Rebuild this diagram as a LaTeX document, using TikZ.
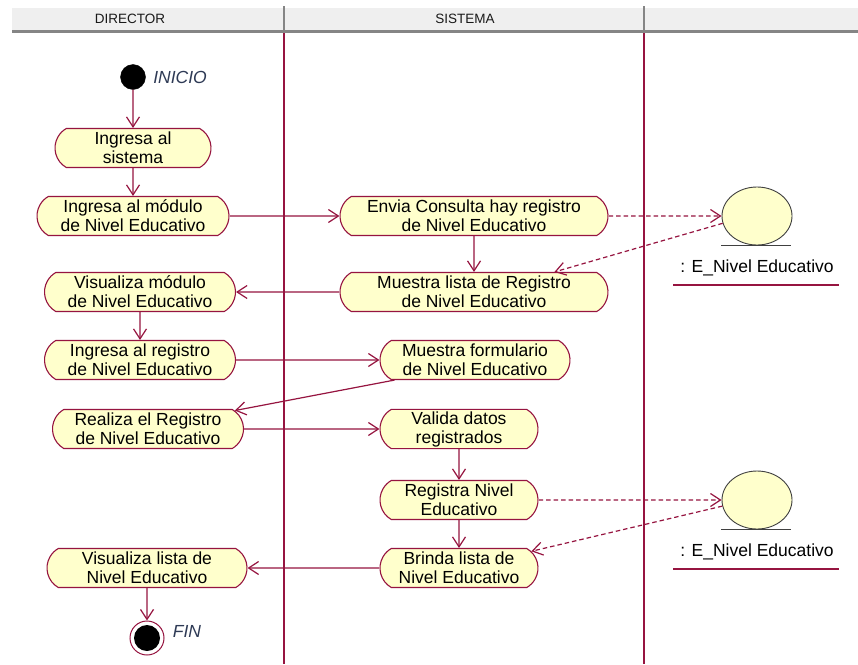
\documentclass[tikz,border=0pt]{standalone}
\usepackage{fontspec}
\setmainfont{Liberation Sans}
\usetikzlibrary{calc, arrows.meta, shapes.misc, shapes.geometric}
\definecolor{LYellow}{HTML}{FFFFCC}
\definecolor{DRed}{HTML}{961440}
\definecolor{HGray}{HTML}{EFEFEF}
\definecolor{MGray}{HTML}{858585}
\definecolor{SLabel}{HTML}{2E3A55}
\NewDocumentCommand{\EntityObj}{O{(0,0)} m}{
    \node[entityobj] (#2) at #1 {};
    \draw[black!75, line width=1.1pt] ($(#2.south)+(-36,0)$) -- ($(#2.south)+(34,0)$);
    \node[objlabel] (#2-label) at ($(#2)+(0,52)$) {: E\_Nivel Educativo};
    \draw[DRed, line width=1.1pt] ($(#2)+(-84,69)$) -- ($(#2)+(82,69)$);
}
\newcommand{\Canvas}{
\fill[white] (0,0) rectangle (858,664);
\useasboundingbox (0,0) rectangle (858,664);
\fill[HGray] (12,8) rectangle (858,31);
\draw[MGray, line width=2.5pt] (12,31.5) -- (858,31.5);
\draw[MGray, line width=2pt] (284,6) -- (284,31);
\draw[MGray, line width=2pt] (644,6) -- (644,31);
\draw[DRed, line width=1.2pt] (284,33) -- (284,664);
\draw[DRed, line width=1.2pt] (644,33) -- (644,664);
\node[lanehead] (lane-director) at (130,18.5) {DIRECTOR};
\node[lanehead] (lane-sistema) at (465,18.5) {SISTEMA};
}

\begin{document}
\begin{tikzpicture}[x=1pt, y=-1pt,
    activity/.style={rounded rectangle, rounded rectangle arc length=120,
        draw=DRed, fill=LYellow, line width=1.1pt, minimum height=39,
        align=center, inner sep=2pt, font=\fontsize{17.5}{19}\selectfont},
    entityobj/.style={ellipse, draw=black!75, fill=LYellow, line width=0.9pt,
        minimum width=70, minimum height=58, inner sep=0pt},
    objlabel/.style={font=\fontsize{17.5}{19}\selectfont},
    lanehead/.style={font=\fontsize{13.5}{15}\selectfont, text=black!90},
    statelabel/.style={font=\fontsize{17.5}{19}\selectfont\itshape, text=SLabel},
    flow/.style={DRed, line width=1.2pt, -{Straight Barb[length=10pt, width=13pt]}},
    objflow/.style={flow, dash pattern=on 4.5pt off 3pt}]
\Canvas

\node[circle, fill=black, draw=black, minimum size=25, inner sep=0pt] (start) at (133,77) {};
\node[statelabel] (start-label) at (180,77) {INICIO};
\node[activity, minimum width=160] (ingresa-sistema) at (133,148) {Ingresa al\\sistema};
\node[activity, minimum width=196] (ingresa-modulo) at (133,216) {Ingresa al módulo\\de Nivel Educativo};
\node[activity, minimum width=272] (envia-consulta) at (474,216) {Envia Consulta hay registro\\de Nivel Educativo};
\node[activity, minimum width=272] (muestra-lista) at (474,292) {Muestra lista de Registro\\de Nivel Educativo};
\node[activity, minimum width=195] (visualiza-modulo) at (140,292) {Visualiza módulo\\de Nivel Educativo};
\node[activity, minimum width=195] (ingresa-registro) at (140,360) {Ingresa al registro\\de Nivel Educativo};
\node[activity, minimum width=194] (muestra-formulario) at (475,360) {Muestra formulario\\de Nivel Educativo};
\node[activity, minimum width=195] (realiza-registro) at (148,429) {Realiza el Registro\\de Nivel Educativo};
\node[activity, minimum width=162] (valida-datos) at (459,429) {Valida datos\\registrados};
\node[activity, minimum width=162] (registra-nivel) at (459,500) {Registra Nivel\\Educativo};
\node[activity, minimum width=162] (brinda-lista) at (459,568) {Brinda lista de\\Nivel Educativo};
\node[activity, minimum width=204] (visualiza-lista) at (147,568) {Visualiza lista de\\Nivel Educativo};
\node[circle, draw=DRed, fill=white, line width=1pt, minimum size=34, inner sep=0pt,
    path picture={\fill[black] (path picture bounding box.center) circle (13pt);}] (fin) at (147,638) {};
\node[statelabel] (fin-label) at (187,631) {FIN};

\EntityObj[(757,216)]{e-nivel-1}
\EntityObj[(757,500)]{e-nivel-2}

\draw[flow] (start) -- (ingresa-sistema);
\draw[flow] (ingresa-sistema) -- (ingresa-modulo);
\draw[flow] (ingresa-modulo) -- (envia-consulta);
\draw[objflow] (envia-consulta) -- (e-nivel-1);
\draw[objflow] (e-nivel-1.192) -- (muestra-lista.14);
\draw[flow] (envia-consulta) -- (muestra-lista);
\draw[flow] (muestra-lista) -- (visualiza-modulo);
\draw[flow] (visualiza-modulo) -- (ingresa-registro);
\draw[flow] (ingresa-registro) -- (muestra-formulario);
\draw[flow] (muestra-formulario.194) -- (realiza-registro.12);
\draw[flow] (realiza-registro) -- (valida-datos);
\draw[flow] (valida-datos) -- (registra-nivel);
\draw[objflow] (registra-nivel) -- (e-nivel-2);
\draw[objflow] (e-nivel-2.190) -- (brinda-lista.13);
\draw[flow] (registra-nivel) -- (brinda-lista);
\draw[flow] (brinda-lista) -- (visualiza-lista);
\draw[flow] (visualiza-lista) -- (fin);
\end{tikzpicture}
\end{document}
